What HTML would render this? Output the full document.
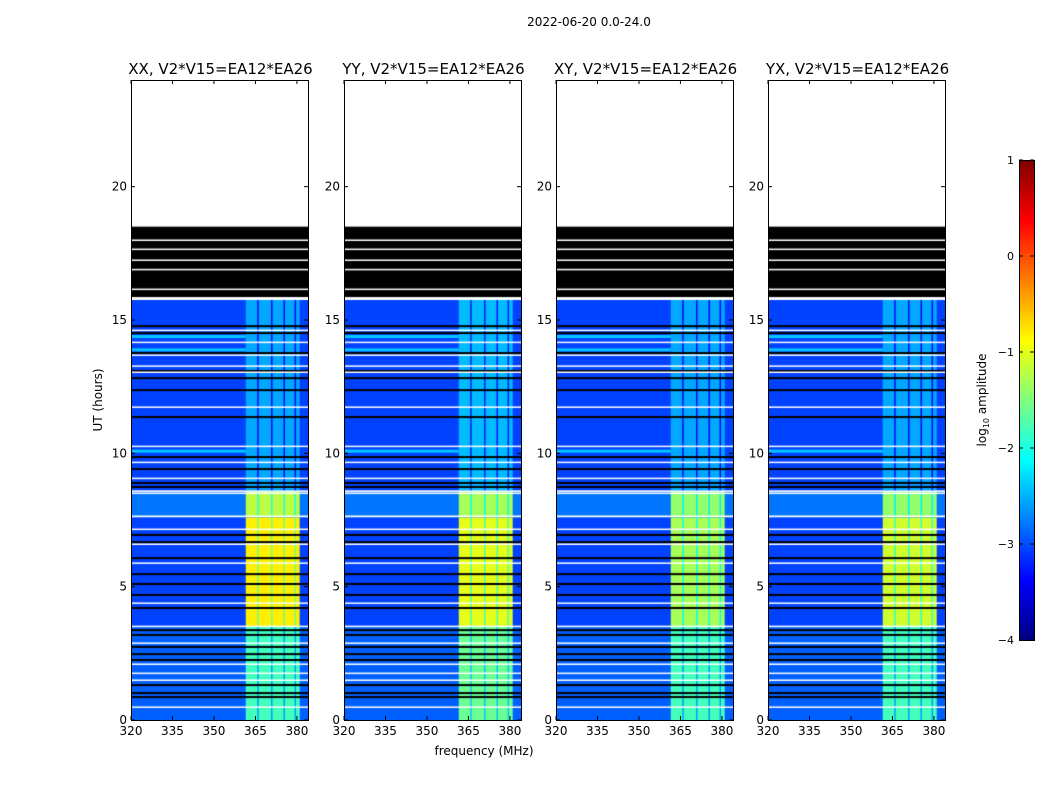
<!DOCTYPE html>
<html><head><meta charset="utf-8">
<style>
body{margin:0;background:#fff;width:1050px;height:800px;overflow:hidden;font-family:"DejaVu Sans",sans-serif;}
#root{position:relative;width:1050px;height:800px;}
canvas{position:absolute;}
</style></head><body>
<div id="root">
<svg id="svg" width="1050" height="800" style="position:absolute;left:0;top:0"></svg>
</div>
<script>
// ---- data ----
const panelTitles = ["XX, V2*V15=EA12*EA26","YY, V2*V15=EA12*EA26","XY, V2*V15=EA12*EA26","YX, V2*V15=EA12*EA26"];
const xTicks = [320,335,350,365,380];
const yTicks = [0,5,10,15,20];
const cbTicks = [1,0,-1,-2,-3,-4];
const segStart = [0, 3.5, 7.6, 8.6];
const segEnd   = [3.5, 7.6, 8.6, 15.75];
const bgLevel  = [-2.9, -3.05, -2.8, -3.05];
const bandXX   = [-1.8, -0.8, -1.2, -2.55];
const bandYY   = [-1.6, -1.0, -1.3, -2.45];
const bandXY   = [-1.8, -1.3, -1.4, -2.55];
const bandYX   = [-1.8, -1.1, -1.4, -2.55];
const bandLevels = [bandXX, bandYY, bandXY, bandYX];
const flaggedStart = 15.86, flaggedEnd = 18.5;
const whiteLines = [18.0,17.66,17.25,16.9,16.16,14.62,14.17,13.69,13.28,13.05,11.74,10.27,9.67,9.07,8.59,8.51,7.65,7.16,6.6,5.89,4.39,3.52,2.89,2.1,1.76,1.5,0.49];
const blackLines = [14.77,14.51,13.76,13.09,12.82,12.37,11.36,9.86,9.41,8.89,8.74,6.94,6.67,6.07,5.47,5.1,4.69,4.2,3.37,3.19,2.74,2.47,2.25,1.31,1.01,0.86];
const brightRows = [14.4, 10.1, 13.9];
const bandLo = 361.5, bandHi = 381;
const stripes = [366, 371, 375.5, 379.5];

// ---- geometry ----
const panelX = [131, 344, 556, 768];
const pw = 177, topY = 80, bottomY = 720;
const fMin = 320, fMax = 384, tMax = 24;
const xs = (i,f)=>panelX[i] + (f-fMin)/(fMax-fMin)*pw;
const ys = h=> bottomY - h/tMax*(bottomY-topY);

function jet(v){
  const r=Math.min(1,Math.max(0,1.5-Math.abs(4*v-3)));
  const g=Math.min(1,Math.max(0,1.5-Math.abs(4*v-2)));
  const b=Math.min(1,Math.max(0,1.5-Math.abs(4*v-1)));
  return [r*255|0,g*255|0,b*255|0];
}
const lvl = l=>jet((l+4)/5);
const rgb = c=>'rgb('+c[0]+','+c[1]+','+c[2]+')';

const root=document.getElementById('root');
const svg=document.getElementById('svg');
const NS="http://www.w3.org/2000/svg";
function txt(x,y,s,size,anchor,name,extra){
  const t=document.createElementNS(NS,'text');
  t.setAttribute('x',x);t.setAttribute('y',y);t.setAttribute('font-size',size);
  t.setAttribute('text-anchor',anchor||'middle');
  t.setAttribute('font-family','"DejaVu Sans", sans-serif');
  if(extra) t.setAttribute('transform',extra);
  t.textContent=s;
  
  
  svg.appendChild(t);return t;
}
function line(x1,y1,x2,y2,name){
  const l=document.createElementNS(NS,'line');
  l.setAttribute('x1',x1);l.setAttribute('y1',y1);l.setAttribute('x2',x2);l.setAttribute('y2',y2);
  l.setAttribute('stroke','#000');l.setAttribute('stroke-width',1);
  
  
  svg.appendChild(l);
}

txt(589,26,"2022-06-20 0.0-24.0",12,'middle','figure-title');

for(let p=0;p<4;p++){
  const cv=document.createElement('canvas');
  cv.width=pw;cv.height=bottomY-topY;
  cv.style.left=panelX[p]+'px';cv.style.top=topY+'px';
  
  
  root.insertBefore(cv,svg);
  const ctx=cv.getContext('2d');
  const bands=bandLevels[p];
  for(let s=0;s<segStart.length;s++){
    const y0=ys(segEnd[s])-topY, y1=ys(segStart[s])-topY;
    ctx.fillStyle=rgb(lvl(bgLevel[s]));
    ctx.fillRect(0,y0,pw,y1-y0);
    ctx.fillStyle=rgb(lvl(bands[s]));
    const bx0=xs(p,bandLo)-panelX[p], bx1=xs(p,bandHi)-panelX[p];
    ctx.fillRect(bx0,y0,bx1-bx0,y1-y0);
    ctx.fillStyle=rgb(lvl(bands[s]-0.8));
    for(const f of stripes){
      const sx=xs(p,f)-panelX[p];
      ctx.fillRect(sx-1,y0,1.5,y1-y0);
    }
  }
  for(const h of brightRows){
    ctx.fillStyle=rgb(lvl(-2.4));
    ctx.fillRect(0,ys(h)-topY-1,xs(p,bandLo)-panelX[p],3);
  }
  ctx.fillStyle='#000';
  ctx.fillRect(0,ys(flaggedEnd)-topY,pw,ys(flaggedStart)-ys(flaggedEnd));
  for(const h of blackLines){ctx.fillRect(0,ys(h)-topY-1,pw,2);}
  ctx.fillStyle='#fff';
  for(const h of whiteLines){ctx.fillRect(0,ys(h)-topY-0.5,pw,1.5);}
  const fr=document.createElementNS(NS,'rect');
  fr.setAttribute('x',panelX[p]+0.5);fr.setAttribute('y',topY+0.5);fr.setAttribute('width',pw);fr.setAttribute('height',bottomY-topY);
  fr.setAttribute('fill','none');fr.setAttribute('stroke','#000');
  
  
  svg.appendChild(fr);
  txt(panelX[p]+pw/2+1,74,panelTitles[p],15,'middle','panel-title');
  for(const f of xTicks){
    const x=xs(p,f);
    line(x,bottomY,x,bottomY-4,'x-tick');line(x,topY,x,topY+4,'x-tick');
    txt(x,735,String(f),12,'middle','x-tick-label');
  }
  for(const h of yTicks){
    const y=ys(h);
    line(panelX[p],y,panelX[p]+4,y,'y-tick');line(panelX[p]+pw,y,panelX[p]+pw-4,y,'y-tick');
    txt(panelX[p]-4,y+4,String(h),12,'end','y-tick-label');
  }
}
txt(484,755,"frequency (MHz)",12,'middle','x-axis-title');
txt(102,400,"UT (hours)",12,'middle','y-axis-title',"rotate(-90 102 400)");

const cbX=1019,cbW=15,cbTop=160,cbBot=640;
const cb=document.createElement('canvas');cb.width=cbW;cb.height=cbBot-cbTop;
cb.style.left=cbX+'px';cb.style.top=cbTop+'px';


root.insertBefore(cb,svg);
const cctx=cb.getContext('2d');
for(let i=0;i<cbBot-cbTop;i++){cctx.fillStyle=rgb(jet(1-i/(cbBot-cbTop)));cctx.fillRect(0,i,cbW,1);}
const cr=document.createElementNS(NS,'rect');
cr.setAttribute('x',cbX+0.5);cr.setAttribute('y',cbTop+0.5);cr.setAttribute('width',cbW);cr.setAttribute('height',cbBot-cbTop);
cr.setAttribute('fill','none');cr.setAttribute('stroke','#000');


svg.appendChild(cr);
for(const v of cbTicks){
  const y=cbTop+(1-v)/5*(cbBot-cbTop);
  line(cbX,y,cbX+4,y,'colorbar-tick');line(cbX+cbW-4,y,cbX+cbW,y,'colorbar-tick');
  txt(cbX-5,y+4,(v<0?'\u2212':'')+Math.abs(v),11,'end','colorbar-tick-label');
}
const lab=txt(986,400,"",12,'middle','colorbar-label',"rotate(-90 986 400)");
lab.innerHTML='log<tspan font-size="8" dy="3">10</tspan><tspan dy="-3"> amplitude</tspan>';
</script>
</body></html>
